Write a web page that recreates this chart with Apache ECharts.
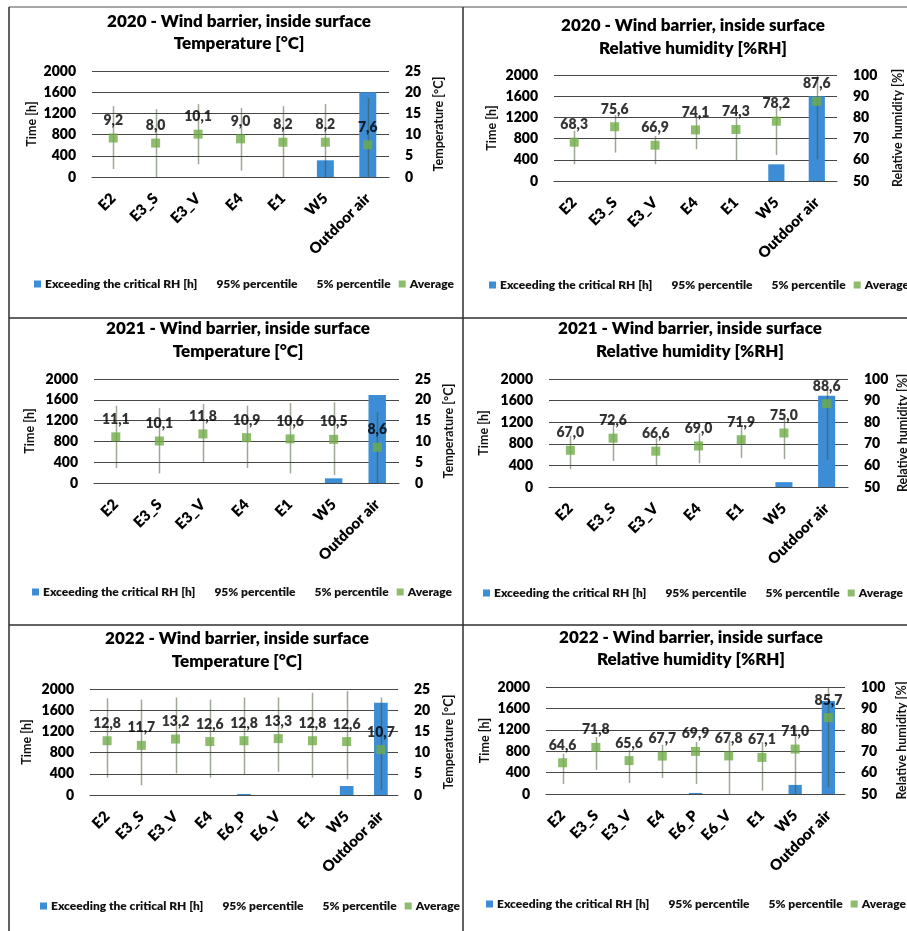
<!DOCTYPE html>
<html>
<head>
<meta charset="utf-8">
<script src="https://cdn.jsdelivr.net/npm/echarts@6/dist/echarts.min.js"></script>
<style>
  html, body { margin: 0; padding: 0; background: #fff; }
  #chart { width: 907px; height: 931px; }
</style>
</head>
<body>
<div id="chart"></div>
<script>
// Sensor positions
const cats7 = ['E2', 'E3_S', 'E3_V', 'E4', 'E1', 'W5', 'Outdoor air'];
const cats9 = ['E2', 'E3_S', 'E3_V', 'E4', 'E6_P', 'E6_V', 'E1', 'W5', 'Outdoor air'];

// Hours exceeding the critical RH [h]
const hours2020 = [0, 0, 0, 0, 0, 315, 1600];
const hours2021 = [0, 0, 0, 0, 0, 90, 1690];
const hours2022 = [0, 0, 0, 0, 20, 0, 0, 170, 1740];

// Temperature [°C]
const temp2020Avg = [9.2, 8.0, 10.1, 9.0, 8.2, 8.2, 7.6];
const temp2020P95 = [16.7, 16.0, 17.2, 16.3, 16.7, 17.2, 18.7];
const temp2020P5  = [1.9, 0, 3.0, 1.5, 0, 0, 0];

const temp2021Avg = [11.1, 10.1, 11.8, 10.9, 10.6, 10.5, 8.6];
const temp2021P95 = [18.6, 18.0, 19.0, 18.6, 19.2, 19.4, 17.0];
const temp2021P5  = [3.6, 2.3, 5.1, 3.6, 2.3, 1.9, 0];

const temp2022Avg = [12.8, 11.7, 13.2, 12.6, 12.8, 13.3, 12.8, 12.6, 10.7];
const temp2022P95 = [22.8, 22.5, 23.0, 22.5, 23.0, 23.0, 24.1, 24.5, 23.0];
const temp2022P5  = [4.1, 2.3, 5.1, 4.1, 4.7, 5.5, 4.1, 3.7, 1.2];

// Relative humidity [%RH]
const rh2020Avg = [68.3, 75.6, 66.9, 74.1, 74.3, 78.2, 87.6];
const rh2020P95 = [73.7, 81.1, 71.2, 80.7, 80.3, 84.3, 99.5];
const rh2020P5  = [57.9, 63.4, 57.9, 65.0, 59.9, 62.3, 60.2];

const rh2021Avg = [67.0, 72.6, 66.6, 69.0, 71.9, 75.0, 88.6];
const rh2021P95 = [73.8, 78.7, 72.5, 74.8, 78.0, 81.8, 95.0];
const rh2021P5  = [58.2, 62.1, 60.1, 61.0, 63.5, 62.9, 62.7];

const rh2022Avg = [64.6, 71.8, 65.6, 67.7, 69.9, 67.8, 67.1, 71.0, 85.7];
const rh2022P95 = [68.8, 76.6, 70.4, 73.0, 74.3, 75.1, 74.3, 82.1, 99.7];
const rh2022P5  = [54.7, 61.3, 55.2, 57.5, 54.7, 50.0, 51.6, 50.0, 53.1];

const seriesNames = ['Exceeding the critical RH [h]', '95% percentile', '5% percentile', 'Average'];

const FONT = 'Lato, "Open Sans", sans-serif';
const HEAVY = 800;
const BLUE = '#3d8dd6';
const GREEN = '#70ad47';
const GRID_LINE = '#474747';
const WHISKER = 'rgba(60, 82, 45, 0.5)';

const panels = [
  { year: 2020, kind: 'T',  cats: cats7, hours: hours2020, avg: temp2020Avg, p95: temp2020P95, p5: temp2020P5,
    grid: { left: 92, top: 71, width: 297, height: 106 }, title: [239, 22, 44], legend: [34, 278], gaps: [54, 43] },
  { year: 2020, kind: 'RH', cats: cats7, hours: hours2020, avg: rh2020Avg, p95: rh2020P95, p5: rh2020P5,
    grid: { left: 554, top: 75, width: 283, height: 106 }, title: [693, 26, 49], legend: [489, 279], gaps: [56, 54] },
  { year: 2021, kind: 'T',  cats: cats7, hours: hours2021, avg: temp2021Avg, p95: temp2021P95, p5: temp2021P5,
    grid: { left: 94, top: 379, width: 305, height: 104 }, title: [238, 329, 352], legend: [32, 586], gaps: [58, 43] },
  { year: 2021, kind: 'RH', cats: cats7, hours: hours2021, avg: rh2021Avg, p95: rh2021P95, p5: rh2021P5,
    grid: { left: 549, top: 379, width: 299, height: 108 }, title: [690, 329, 352], legend: [483, 587], gaps: [59, 48] },
  { year: 2022, kind: 'T',  cats: cats9, hours: hours2022, avg: temp2022Avg, p95: temp2022P95, p5: temp2022P5,
    grid: { left: 90, top: 689, width: 308, height: 106 }, title: [237, 639, 662], legend: [40, 900], gaps: [57, 44] },
  { year: 2022, kind: 'RH', cats: cats9, hours: hours2022, avg: rh2022Avg, p95: rh2022P95, p5: rh2022P5,
    grid: { left: 546, top: 687, width: 299, height: 107 }, title: [691, 638, 660], legend: [486, 898], gaps: [55, 50] }
];

const grid = [], xAxis = [], yAxis = [], series = [], legend = [], graphic = [];

panels.forEach((p, k) => {
  grid.push(Object.assign({ containLabel: false, outerBoundsMode: 'none' }, p.grid));

  xAxis.push({
    type: 'category', gridIndex: k, data: p.cats,
    axisLine: { show: true, lineStyle: { color: GRID_LINE, width: 1 } },
    axisTick: { show: false },
    axisLabel: { interval: 0, rotate: 45, margin: 19, fontSize: 15, fontWeight: HEAVY, color: '#000', fontFamily: FONT }
  });

  // Left axis: hours
  yAxis.push({
    type: 'value', gridIndex: k, position: 'left', min: 0, max: 2000, interval: 400,
    name: 'Time [h]', nameLocation: 'middle', nameRotate: 90, nameGap: p.gaps[0], nameMoveOverlap: false,
    nameTextStyle: { fontSize: 12.5, fontWeight: 'bold', color: '#111', fontFamily: FONT },
    axisLine: { show: false }, axisTick: { show: false },
    axisLabel: { margin: 16, fontSize: 14, fontWeight: HEAVY, color: '#000', fontFamily: FONT,
                 formatter: (v) => String(v) },
    splitLine: { show: true, lineStyle: { color: GRID_LINE, width: 1 } }
  });

  // Right axis: temperature or relative humidity
  const isT = p.kind === 'T';
  yAxis.push({
    type: 'value', gridIndex: k, position: 'right',
    min: isT ? 0 : 50, max: isT ? 25 : 100, interval: isT ? 5 : 10,
    name: isT ? 'Temperature [°C]' : 'Relative humidity [%]',
    nameLocation: 'middle', nameRotate: 90, nameGap: p.gaps[1], nameMoveOverlap: false,
    nameTextStyle: { fontSize: 12.5, fontWeight: 'bold', color: '#111', fontFamily: FONT },
    axisLine: { show: false }, axisTick: { show: false },
    axisLabel: { margin: 16, fontSize: 14, fontWeight: HEAVY, color: '#000', fontFamily: FONT },
    splitLine: { show: false }
  });

  const yl = 2 * k, yr = 2 * k + 1;

  series.push({
    name: seriesNames[0], type: 'bar', xAxisIndex: k, yAxisIndex: yl,
    data: p.hours, barWidth: '40%', itemStyle: { color: BLUE }, z: 2, silent: true
  });
  series.push({
    name: seriesNames[1], type: 'line', xAxisIndex: k, yAxisIndex: yr,
    data: p.p95, symbol: 'none', lineStyle: { opacity: 0 }, z: 1, silent: true
  });
  series.push({
    name: seriesNames[2], type: 'line', xAxisIndex: k, yAxisIndex: yr,
    data: p.p5, symbol: 'none', lineStyle: { opacity: 0 }, z: 1, silent: true
  });
  // High-low lines between the 5% and 95% percentiles
  series.push({
    name: 'percentile range', type: 'custom', xAxisIndex: k, yAxisIndex: yr,
    data: p.p5.map((lo, i) => [i, lo, p.p95[i]]),
    encode: { x: 0, y: [1, 2] }, z: 3, silent: true,
    renderItem: (params, api) => {
      const a = api.coord([api.value(0), api.value(1)]);
      const b = api.coord([api.value(0), api.value(2)]);
      return {
        type: 'line',
        shape: { x1: Math.round(a[0]) + 0.5, y1: a[1], x2: Math.round(b[0]) + 0.5, y2: b[1] },
        style: { stroke: WHISKER, lineWidth: 1.5 }
      };
    }
  });
  series.push({
    name: seriesNames[3], type: 'scatter', xAxisIndex: k, yAxisIndex: yr,
    data: p.avg, symbol: 'rect', symbolSize: 9, itemStyle: { color: GREEN }, z: 4, silent: true,
    label: {
      show: true, position: 'top', distance: 6,
      fontSize: 14, fontWeight: HEAVY, color: '#000', fontFamily: FONT,
      formatter: (d) => d.value.toFixed(1).replace('.', ',')
    }
  });

  legend.push({
    left: p.legend[0], top: p.legend[1], width: 520, padding: 0, itemGap: 8, itemWidth: 7, itemHeight: 7,
    selectedMode: false,
    textStyle: { fontSize: 12, fontWeight: HEAVY, color: '#111', fontFamily: FONT, padding: [0, 0, 0, -1] },
    data: [
      { name: seriesNames[0], icon: 'rect', itemStyle: { color: BLUE } },
      { name: seriesNames[1], icon: 'rect', itemStyle: { opacity: 0 }, lineStyle: { opacity: 0 } },
      { name: seriesNames[2], icon: 'rect', itemStyle: { opacity: 0 }, lineStyle: { opacity: 0 } },
      { name: seriesNames[3], icon: 'rect', itemStyle: { color: GREEN } }
    ]
  });

  const qty = isT ? 'Temperature [°C]' : 'Relative humidity [%RH]';
  const titleFont = HEAVY + ' 17px ' + FONT;
  graphic.push({
    type: 'text', x: p.title[0], y: p.title[1], silent: true,
    style: { text: p.year + ' - Wind barrier, inside surface', align: 'center', verticalAlign: 'middle',
             font: titleFont, fill: '#000' }
  });
  graphic.push({
    type: 'text', x: p.title[0], y: p.title[2], silent: true,
    style: { text: qty, align: 'center', verticalAlign: 'middle', font: titleFont, fill: '#000' }
  });
});

// Panel frame lines
const frame = [
  [9, 7, 907, 7, '#8a8a8a'],
  [9, 7, 9, 931, '#2e2e2e'],
  [463, 7, 463, 931, '#2e2e2e'],
  [9, 318, 907, 318, '#2e2e2e'],
  [9, 625, 907, 625, '#2e2e2e']
];
frame.forEach(([x1, y1, x2, y2, c]) => {
  graphic.push({ type: 'line', silent: true, z: 10,
    shape: { x1, y1, x2, y2 }, style: { stroke: c, lineWidth: 1.5 } });
});

const chart = echarts.init(document.getElementById('chart'), null, { renderer: 'canvas' });
chart.setOption({
  animation: false,
  backgroundColor: '#fff',
  textStyle: { fontFamily: FONT },
  grid, xAxis, yAxis, series, legend, graphic,
  tooltip: { show: false }
});
</script>
</body>
</html>
